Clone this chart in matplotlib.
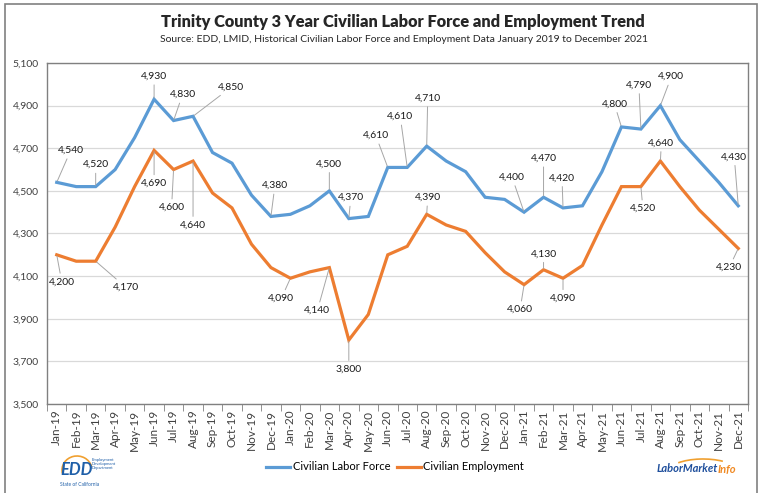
import numpy as np
import matplotlib
matplotlib.use('Agg')
import matplotlib.pyplot as plt
from matplotlib.patches import Rectangle, Arc

plt.rcParams['font.family'] = ['Lato', 'DejaVu Sans']

# 月份标签
months = ['Jan-19', 'Feb-19', 'Mar-19', 'Apr-19', 'May-19', 'Jun-19', 'Jul-19', 'Aug-19',
          'Sep-19', 'Oct-19', 'Nov-19', 'Dec-19', 'Jan-20', 'Feb-20', 'Mar-20', 'Apr-20',
          'May-20', 'Jun-20', 'Jul-20', 'Aug-20', 'Sep-20', 'Oct-20', 'Nov-20', 'Dec-20',
          'Jan-21', 'Feb-21', 'Mar-21', 'Apr-21', 'May-21', 'Jun-21', 'Jul-21', 'Aug-21',
          'Sep-21', 'Oct-21', 'Nov-21', 'Dec-21']

# 劳动力
labor_force = [4540, 4520, 4520, 4600, 4750, 4930, 4830, 4850,
               4680, 4630, 4480, 4380, 4390, 4430, 4500, 4370,
               4380, 4610, 4610, 4710, 4640, 4590, 4470, 4460,
               4400, 4470, 4420, 4430, 4590, 4800, 4790, 4900,
               4740, 4640, 4540, 4430]

# 就业
employment = [4200, 4170, 4170, 4330, 4520, 4690, 4600, 4640,
              4490, 4420, 4250, 4140, 4090, 4120, 4140, 3800,
              3920, 4200, 4240, 4390, 4340, 4310, 4210, 4120,
              4060, 4130, 4090, 4150, 4340, 4520, 4520, 4640,
              4520, 4410, 4320, 4230]

# 有数据标签的点
lf_labeled = [0, 2, 5, 6, 7, 11, 14, 15, 17, 18, 19, 24, 25, 26, 29, 30, 31, 35]
em_labeled = [0, 2, 5, 6, 7, 12, 14, 15, 19, 24, 25, 26, 30, 31, 35]

# 标签偏移 (像素)
lf_offsets = {0: (14, 32), 2: (0, 22), 5: (0, 23), 6: (9, 26), 7: (38, 29), 11: (4, 31),
              14: (0, 27), 15: (2, 21), 17: (-12, 32), 18: (-7, 51), 19: (1, 48),
              24: (-12, 35), 25: (0, 39), 26: (-1, 30), 29: (-7, 23), 30: (-2, 44),
              31: (11, 29), 35: (-4, 49)}
em_offsets = {0: (5, -27), 2: (30, -26), 5: (0, -33), 6: (-2, -38), 7: (0, -64),
              12: (-9, -20), 14: (-12, -43), 15: (0, -29), 19: (1, 17), 24: (-4, -25),
              25: (0, 16), 26: (0, -20), 30: (2, -22), 31: (1, 18), 35: (-9, -19)}

blue = '#5B9BD5'
orange = '#ED7D31'

fig = plt.figure(figsize=(7.67, 4.93), dpi=100)
ax = fig.add_axes([47 / 767, 89 / 493, 701 / 767, 341 / 493])

x = np.arange(len(months))
ax.plot(x, labor_force, color=blue, lw=2.3, label='Civilian Labor Force', solid_joinstyle='miter')
ax.plot(x, employment, color=orange, lw=2.3, label='Civilian Employment', solid_joinstyle='miter')

def add_labels(values, idx, offsets):
    for i in idx:
        ax.annotate('{:,}'.format(values[i]), xy=(i, values[i]), xytext=offsets[i],
                    textcoords='offset pixels', ha='center', va='center',
                    fontsize=7.5, color='#1a1a1a',
                    arrowprops=dict(arrowstyle='-', color='#a6a6a6', lw=0.7,
                                    shrinkA=1, shrinkB=1))

add_labels(labor_force, lf_labeled, lf_offsets)
add_labels(employment, em_labeled, em_offsets)

ax.set_xlim(-0.5, len(months) - 0.5)
ax.set_ylim(3500, 5100)
ax.set_yticks(np.arange(3500, 5101, 200))
ax.set_yticklabels(['{:,}'.format(v) for v in range(3500, 5101, 200)], fontsize=7.5, color='#404040')
ax.set_xticks(x)
ax.set_xticklabels(months, rotation=90, fontsize=8.5, color='#404040')
ax.set_xticks(np.arange(-0.5, len(months), 1), minor=True)
ax.tick_params(axis='x', which='major', length=0, pad=4)
ax.tick_params(axis='x', which='minor', length=5, color='#808080', direction='out')
ax.tick_params(axis='y', length=0, pad=6)
ax.grid(axis='y', color='#d9d9d9', lw=0.9)
ax.set_axisbelow(True)
for s in ax.spines.values():
    s.set_color('#808080')
    s.set_linewidth(1)

# 标题
fig.text(403 / 767, 1 - 22 / 493, 'Trinity County 3 Year Civilian Labor Force and Employment Trend',
         ha='center', va='center', fontsize=11.8, fontweight='heavy', color='#262626')
fig.text(404 / 767, 1 - 40 / 493,
         'Source: EDD, LMID, Historical Civilian Labor Force and Employment Data January 2019 to December 2021',
         ha='center', va='center', fontsize=7.5, color='#262626')

# 图例
fig.legend(loc='center', bbox_to_anchor=(395 / 767, 1 - 467 / 493), ncol=2, frameon=False,
           fontsize=8, handlelength=2.2, columnspacing=0.6, handletextpad=0.2)

# 外框
fig.patches.append(Rectangle((5 / 767, -0.05), 752 / 767, 1.05 - 4 / 493, transform=fig.transFigure,
                             fill=False, edgecolor='#808080', lw=1.2))

# EDD 标志
fig.text(77 / 767, 1 - 470 / 493, 'EDD', ha='center', va='center', fontsize=12,
         fontweight='bold', fontstyle='italic', color='#1f5fa8')
fig.text(92 / 767, 1 - 464 / 493, 'Employment\nDevelopment\nDepartment', ha='left', va='center',
         fontsize=3, color='#1f5fa8', linespacing=1.0)
fig.text(80 / 767, 1 - 485 / 493, 'State of California', ha='center', va='center',
         fontsize=3.5, color='#1f5fa8')
fig.patches.append(Arc((77 / 767, 1 - 470 / 493), 30 / 767, 28 / 493, theta1=20, theta2=200,
                       transform=fig.transFigure, color='#f0a030', lw=1.2))

# LaborMarketInfo 标志
fig.text(718 / 767, 1 - 469 / 493, 'LaborMarket', ha='right', va='center', fontsize=8,
         fontweight='bold', fontstyle='italic', color='#1f4f9c')
fig.text(718 / 767, 1 - 469 / 493, 'Info', ha='left', va='center', fontsize=8,
         fontweight='bold', fontstyle='italic', color='#f08a24')
fig.patches.append(Arc((703 / 767, 1 - 472 / 493), 70 / 767, 26 / 493, theta1=40, theta2=150,
                       transform=fig.transFigure, color='#f0a030', lw=1.2))

fig.savefig('out.png', dpi=100)
